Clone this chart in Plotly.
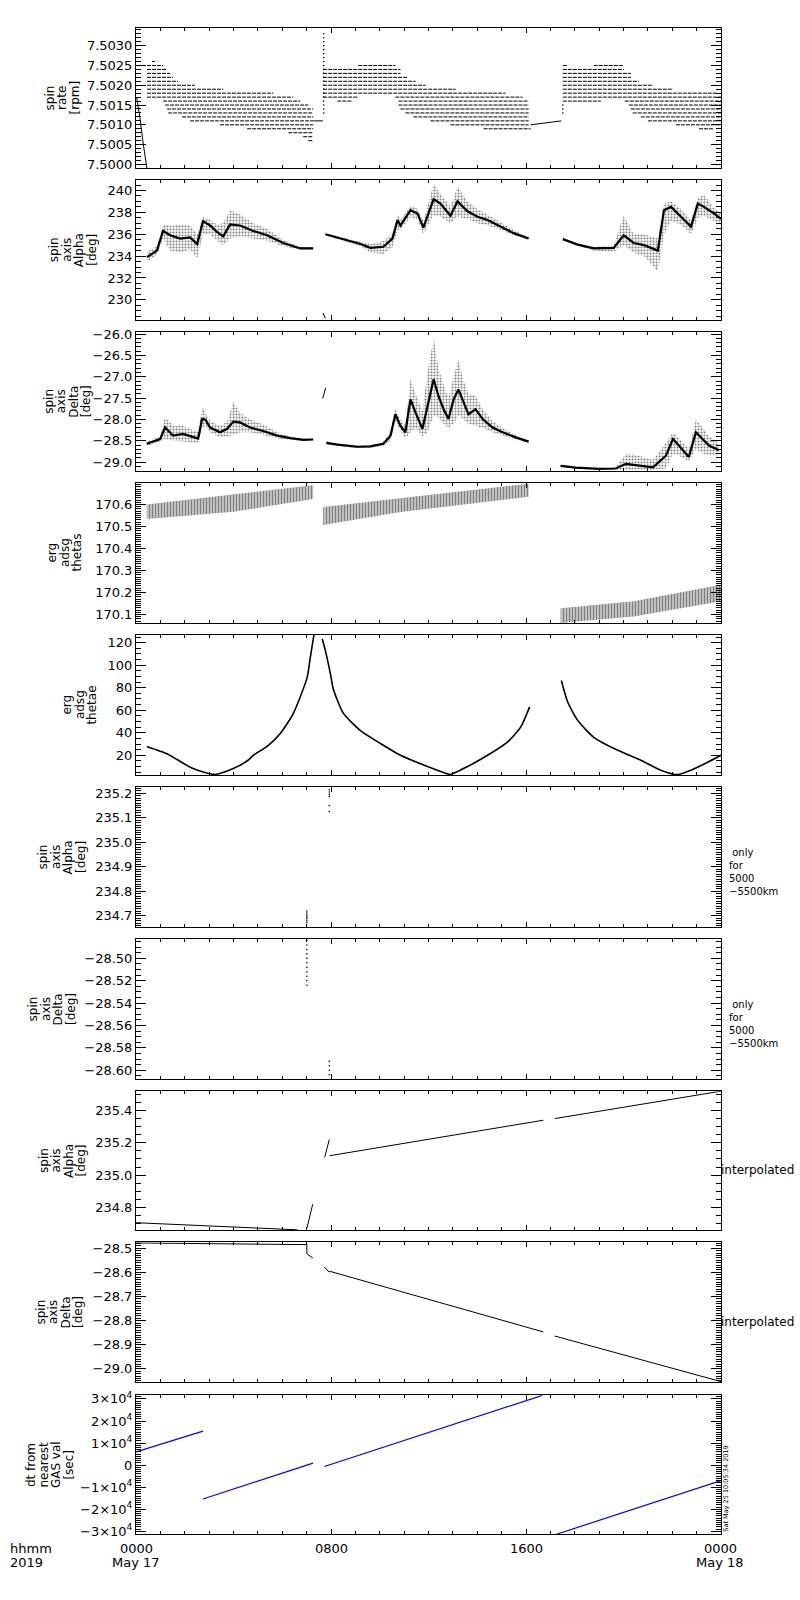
import plotly.graph_objects as go

# time axis: hours after 0000 UT, 2019 May 17

# ---- panel 1: spin rate [rpm], quantised rows -> level, start hour, end hour
rate_levels = [7.5026, 7.5025, 7.5024, 7.5023, 7.5022, 7.5021, 7.5020, 7.5019, 7.5018, 7.5017,
               7.5016, 7.5015, 7.5014, 7.5013, 7.5012, 7.5011, 7.5010, 7.5009, 7.5008, 7.5007, 7.5006,
               7.5025, 7.5024, 7.5023, 7.5022, 7.5021, 7.5020, 7.5019, 7.5018, 7.5017, 7.5017,
               7.5016, 7.5016, 7.5015, 7.5014, 7.5013, 7.5012, 7.5011, 7.5010, 7.5009,
               7.5025, 7.5025, 7.5024, 7.5023, 7.5022, 7.5021, 7.5020, 7.5019, 7.5018, 7.5017,
               7.5016, 7.5016, 7.5015, 7.5014, 7.5013, 7.5012, 7.5011, 7.5010, 7.5009]
rate_t0 = [0.66, 0.45, 0.45, 0.45, 0.45, 0.45, 0.45, 0.45, 0.45, 0.45,
           1.11, 1.19, 1.27, 1.32, 1.89, 2.22, 3.45, 4.56, 6.25, 6.86, 7.07,
           9.12, 7.68, 7.68, 7.68, 7.68, 7.68, 7.68, 7.68, 7.68, 10.64,
           8.26, 10.77, 10.77, 10.85, 11.05, 11.38, 12.08, 12.90, 14.26,
           17.51, 18.78, 17.51, 17.51, 17.51, 17.51, 17.51, 17.51, 17.51, 17.51,
           17.51, 20.05, 20.22, 20.30, 20.38, 20.71, 21.00, 22.15, 23.10]
rate_t1 = [0.78, 1.11, 1.27, 1.40, 1.52, 1.73, 2.42, 3.58, 5.63, 6.45,
           6.74, 7.07, 7.27, 7.27, 7.27, 7.27, 7.27, 7.27, 7.27, 7.27, 7.27,
           10.64, 10.85, 10.85, 11.14, 11.47, 11.88, 13.11, 15.16, 9.12, 15.86,
           8.88, 16.11, 16.11, 16.11, 16.11, 16.11, 16.11, 16.11, 16.19,
           17.71, 20.01, 20.01, 20.30, 20.30, 20.63, 21.21, 22.03, 23.88, 24.0,
           19.07, 24.0, 24.0, 24.0, 24.0, 24.0, 24.0, 24.0, 23.67]
rate_col_t = [7.70, 7.70, 7.70, 7.70, 7.70, 7.70, 7.70, 7.70, 7.70, 7.70, 7.70,
              7.70, 7.70, 7.70, 7.70, 7.70, 7.70, 7.70, 7.70, 7.70, 7.70,
              17.51, 17.51, 17.51]
rate_col_v = [7.5013, 7.5014, 7.5015, 7.5016, 7.5017, 7.5018, 7.5019, 7.5020, 7.5021, 7.5022, 7.5023,
              7.5024, 7.5025, 7.5026, 7.5027, 7.5028, 7.5029, 7.5030, 7.5031, 7.5032, 7.5033,
              7.5013, 7.5014, 7.5015]
rate_line_t = [0.03, 0.16, 0.30, 0.46, None, 7.27, 7.67, None, 16.19, 17.45]
rate_line_v = [7.50168, 7.50118, 7.50051, 7.49985, None, 7.5011, 7.5011, None, 7.5010, 7.5011]

# ---- panel 2: spin axis Alpha [deg], core and spread per orbit segment
alpha_t = [[0.45, 0.86, 1.11, 1.40, 1.81, 2.22, 2.51, 2.75, 3.04, 3.33, 3.58, 3.86, 4.27, 4.81, 5.38, 6.04, 6.74, 7.27],
           [7.77, 8.59, 9.21, 9.62, 10.15, 10.52, 10.73, 10.85, 11.26, 11.55, 11.79, 12.21, 12.49, 12.90, 13.19,
            13.60, 14.01, 14.42, 14.96, 15.49, 16.11],
           [17.51, 18.12, 18.78, 19.60, 20.01, 20.42, 20.84, 21.41, 21.66, 21.95, 22.36, 22.77, 23.05, 23.30, 23.71, 24.0]]
alpha_mid = [[233.9, 234.5, 236.3, 235.9, 235.6, 235.7, 235.1, 237.2, 236.8, 236.2, 235.8, 236.9, 236.8, 236.3, 235.9, 235.2, 234.7, 234.7],
             [236.0, 235.5, 235.1, 234.75, 234.85, 235.6, 237.3, 236.8, 238.2, 237.9, 236.6, 239.2, 238.8, 237.7, 239.0,
              238.1, 237.6, 237.3, 236.7, 236.1, 235.6],
             [235.55, 235.05, 234.7, 234.75, 235.9, 235.2, 235.0, 234.5, 238.2, 238.5, 237.6, 236.7, 238.8, 238.5, 237.9, 237.4]]
alpha_lo = [[233.5, 234.1, 235.6, 234.5, 234.3, 234.6, 233.8, 236.0, 236.0, 235.4, 235.0, 235.6, 235.8, 235.6, 235.4, 234.9, 234.55, 234.6],
            [235.9, 235.35, 234.9, 234.3, 234.2, 234.8, 236.4, 236.4, 237.6, 237.3, 236.0, 237.8, 237.6, 237.0, 237.6,
             237.4, 237.0, 236.8, 236.4, 235.9, 235.5],
            [235.45, 234.95, 234.5, 234.4, 235.0, 234.3, 234.0, 232.6, 236.0, 237.2, 236.9, 236.0, 237.5, 237.7, 237.2, 236.9]]
alpha_hi = [[234.4, 234.9, 236.9, 236.8, 236.9, 236.8, 236.0, 237.6, 237.3, 236.9, 237.0, 238.2, 237.8, 237.0, 236.5, 235.5, 234.85, 234.8],
            [236.1, 235.65, 235.3, 235.1, 235.4, 236.0, 237.8, 237.3, 238.6, 238.3, 237.2, 240.6, 239.7, 238.5, 240.4,
             239.0, 238.3, 237.8, 237.1, 236.4, 235.7],
            [235.65, 235.15, 234.85, 235.0, 237.7, 236.0, 236.0, 235.6, 238.8, 239.0, 238.3, 237.3, 239.3, 239.6, 238.4, 237.9]]
alpha_stub_t = [7.67, 7.77]
alpha_stub_v = [228.8, 228.3]

# ---- panel 3: spin axis Delta [deg]
delta_t = [[0.44, 0.99, 1.19, 1.52, 1.93, 2.34, 2.55, 2.71, 2.84, 3.04, 3.45, 3.74, 3.99, 4.27, 4.68, 5.22, 5.79, 6.33, 6.86, 7.27],
           [7.81, 8.26, 9.08, 9.62, 10.15, 10.44, 10.64, 10.85, 11.05, 11.26, 11.47, 11.75, 11.96, 12.21, 12.41,
            12.62, 12.82, 13.03, 13.23, 13.44, 13.64, 13.93, 14.22, 14.63, 15.04, 15.58, 16.11],
           [17.42, 18.04, 18.99, 19.68, 20.10, 20.63, 21.21, 21.74, 22.03, 22.27, 22.68, 22.97, 23.26, 23.51, 23.92]]
delta_mid = [[-28.57, -28.46, -28.19, -28.38, -28.34, -28.42, -28.45, -27.99, -28.00, -28.19, -28.30, -28.22, -28.05, -28.07,
              -28.19, -28.27, -28.38, -28.44, -28.48, -28.47],
             [-28.55, -28.59, -28.64, -28.63, -28.57, -28.38, -27.88, -28.15, -28.30, -27.53, -27.84, -28.22, -27.69, -27.06,
              -27.45, -27.76, -27.99, -27.53, -27.30, -27.61, -27.88, -27.76, -27.99, -28.19, -28.30, -28.42, -28.52],
             [-29.09, -29.13, -29.16, -29.15, -29.04, -29.08, -29.12, -28.85, -28.46, -28.61, -28.88, -28.30, -28.46, -28.61, -28.72]]
delta_lo = [[-28.62, -28.52, -28.45, -28.50, -28.52, -28.55, -28.55, -28.20, -28.15, -28.30, -28.42, -28.40, -28.35, -28.30,
             -28.30, -28.36, -28.44, -28.48, -28.50, -28.49],
            [-28.58, -28.62, -28.67, -28.66, -28.62, -28.50, -28.05, -28.25, -28.45, -28.30, -28.20, -28.40, -28.30, -27.90,
             -27.95, -28.10, -28.20, -28.10, -27.90, -28.00, -28.10, -28.15, -28.20, -28.30, -28.38, -28.47, -28.55],
            [-29.11, -29.15, -29.18, -29.18, -29.17, -29.18, -29.18, -29.15, -28.80, -28.85, -28.98, -28.70, -28.80, -28.85, -28.85]]
delta_hi = [[-28.52, -28.40, -27.95, -28.15, -28.15, -28.25, -28.30, -27.70, -27.85, -28.05, -28.15, -28.05, -27.60, -27.85,
             -28.00, -28.12, -28.30, -28.40, -28.45, -28.45],
            [-28.52, -28.56, -28.61, -28.60, -28.52, -28.30, -27.75, -28.00, -28.15, -27.05, -27.40, -27.80, -26.90, -26.10,
             -26.80, -27.20, -27.50, -27.00, -26.60, -27.10, -27.40, -27.45, -27.75, -28.05, -28.20, -28.37, -28.50],
            [-29.07, -29.11, -29.14, -29.12, -28.80, -28.85, -28.95, -28.55, -28.30, -28.45, -28.70, -28.00, -28.20, -28.40, -28.55]]
delta_stub_t = [7.66, 7.78]
delta_stub_v = [-27.51, -27.26]

# ---- panel 4: erg adsg thetas, band edges
thetas_t = [[0.44, 4.0, 7.27], [7.68, 10.85, 16.11], [17.42, 20.42, 24.0]]
thetas_lo = [[170.534, 170.567, 170.625], [170.507, 170.566, 170.635], [170.062, 170.091, 170.160]]
thetas_hi = [[170.600, 170.645, 170.688], [170.589, 170.630, 170.695], [170.129, 170.160, 170.235]]

# ---- panel 5: erg adsg thetae
thetae_t = [[0.44, 1.27, 1.68, 2.34, 3.25, 3.99, 4.60, 4.81, 5.38, 5.92, 6.45, 7.02, 7.15, 7.30],
            [7.64, 7.77, 7.97, 8.10, 8.51, 9.21, 10.03, 10.85, 11.96, 12.78, 12.90, 13.60, 14.42, 15.25, 15.78, 16.15],
            [17.45, 17.71, 18.12, 18.78, 19.77, 20.71, 21.53, 22.23, 22.77, 23.47, 24.0]]
thetae_v = [[27.9, 21.4, 16.2, 8.2, 3.0, 8.2, 15.6, 20.0, 28.0, 39.4, 57.0, 89.0, 106.8, 127.0],
            [123.3, 113.0, 93.0, 78.5, 57.2, 42.0, 30.5, 20.0, 10.0, 3.5, 3.0, 10.0, 20.0, 32.0, 45.0, 63.0],
            [86.4, 67.3, 51.0, 36.0, 24.4, 15.6, 6.8, 2.8, 6.8, 14.0, 20.0]]

# ---- panels 6 / 7: only for 5000-5500 km
alpha5k_t = [7.01, 7.01, 7.01, 7.01, 7.01, 7.01, 7.01, 7.93, 7.93, 7.93, 7.93, 7.93, 7.93]
alpha5k_v = [234.672, 234.680, 234.688, 234.695, 234.703, 234.712, 234.720,
             235.214, 235.205, 235.196, 235.187, 235.150, 235.125]
delta5k_t = [7.01, 7.01, 7.01, 7.01, 7.01, 7.01, 7.01, 7.01, 7.01, 7.01, 7.01, 7.93, 7.93, 7.93, 7.93]
delta5k_v = [-28.484, -28.488, -28.492, -28.496, -28.500, -28.504, -28.508, -28.512, -28.516, -28.520, -28.524,
             -28.592, -28.596, -28.600, -28.604]

# ---- panels 8 / 9: interpolated
alpha_i_t = [0.0, 6.62, None, 7.01, 7.25, None, 7.74, 7.93, None, 7.94, 16.71, None, 17.18, 24.0]
alpha_i_v = [234.705, 234.661, None, 234.67, 234.82, None, 235.11, 235.22, None, 235.12, 235.34, None, 235.35, 235.52]
delta_i_t = [0.0, 7.01, 7.01, 7.25, None, 7.73, 7.93, None, 7.93, 16.71, None, 17.18, 24.0]
delta_i_v = [-28.478, -28.485, -28.523, -28.54, None, -28.578, -28.60, None, -28.595, -28.847, None, -28.864, -29.053]

# ---- panel 10: dt from nearest GAS val [sec]
dt_t = [0.0, 2.75, None, 2.75, 7.26, None, 7.73, 16.67, None, 17.22, 24.0]
dt_v = [6000, 15450, None, -15300, 900, None, -600, 31600, None, -31400, -7000]

titles = [["spin", "rate", "[rpm]"],
          ["spin", "axis", "Alpha", "[deg]"],
          ["spin", "axis", "Delta", "[deg]"],
          ["erg", "adsg", "thetas"],
          ["erg", "adsg", "thetae"],
          ["spin", "axis", "Alpha", "[deg]"],
          ["spin", "axis", "Delta", "[deg]"],
          ["spin", "axis", "Alpha", "[deg]"],
          ["spin", "axis", "Delta", "[deg]"],
          ["dt from", "nearest", "GAS val", "[sec]"]]

# layout in pixels
W, H = 800, 1600
X0, X1 = 136, 721
PANELS = [(23, 164), (176, 317), (329, 469), (481, 622), (634, 775),
          (787, 928), (940, 1081), (1093, 1233), (1245, 1386), (1399, 1539)]
TITLE_X = [62, 73, 67, 65, 80, 62, 52, 62, 60, 50]
TICKFONT = dict(family="DejaVu Sans", size=13, color="black")
TXTFONT = dict(family="DejaVu Sans", size=12, color="black")

yspec = [
    dict(range=[7.49991, 7.50345], tick0=7.5, dtick=0.0005, tickformat=".4f", minor=0.0001),
    dict(range=[228.15, 240.97], tick0=230, dtick=2, minor=0.5),
    dict(range=[-29.21, -25.95], tick0=-29, dtick=0.5, tickformat=".1f", minor=0.1),
    dict(range=[170.061, 170.698], tick0=170.1, dtick=0.1, tickformat=".1f", minor=0.01),
    dict(range=[2.35, 126.8], tick0=0, dtick=20, minor=5),
    dict(range=[234.654, 235.225], tick0=234.7, dtick=0.1, tickformat=".1f", minor=0.01),
    dict(range=[-28.608, -28.4828], tick0=-28.6, dtick=0.02, tickformat=".2f", minor=0.005),
    dict(range=[234.658, 235.52], tick0=234.8, dtick=0.2, tickformat=".1f", minor=0.05),
    dict(range=[-29.056, -28.475], tick0=-29, dtick=0.1, tickformat=".1f", minor=0.01),
    dict(range=[-31350, 31667], tick0=0, dtick=10000, minor=1000),
]

fig = go.Figure()


def ax(i):
    return ("x" if i == 1 else f"x{i}"), ("y" if i == 1 else f"y{i}")


def add(trace, i):
    xa, ya = ax(i)
    trace.update(xaxis=xa, yaxis=ya, showlegend=False, hoverinfo="skip")
    fig.add_trace(trace)


def band(i, t, lo, hi, shape, size, solidity):
    add(go.Scatter(x=t, y=lo, mode="lines", line=dict(width=0)), i)
    add(go.Scatter(x=t, y=hi, mode="lines", line=dict(width=0), fill="tonexty",
                   fillcolor="rgba(0,0,0,0)",
                   fillpattern=dict(shape=shape, fgcolor="black", bgcolor="rgba(0,0,0,0)",
                                    size=size, solidity=solidity)), i)


# panel 1
rx, ry = [], []
for lv, a, b in zip(rate_levels, rate_t0, rate_t1):
    rx += [a, b, None]
    ry += [lv, lv, None]
add(go.Scatter(x=rx, y=ry, mode="lines", line=dict(color="black", width=1, dash="4px,1px")), 1)
add(go.Scatter(x=rate_col_t, y=rate_col_v, mode="markers", marker=dict(color="black", size=1.6)), 1)
add(go.Scatter(x=rate_line_t, y=rate_line_v, mode="lines", line=dict(color="black", width=1)), 1)

# panel 2 and 3
for t, m, lo, hi in zip(alpha_t, alpha_mid, alpha_lo, alpha_hi):
    band(2, t, lo, hi, ".", 3, 0.4)
    add(go.Scatter(x=t, y=m, mode="lines", line=dict(color="black", width=2.2)), 2)
add(go.Scatter(x=alpha_stub_t, y=alpha_stub_v, mode="lines", line=dict(color="black", width=1)), 2)
for t, m, lo, hi in zip(delta_t, delta_mid, delta_lo, delta_hi):
    band(3, t, lo, hi, ".", 3, 0.4)
    add(go.Scatter(x=t, y=m, mode="lines", line=dict(color="black", width=2.2)), 3)
add(go.Scatter(x=delta_stub_t, y=delta_stub_v, mode="lines", line=dict(color="black", width=1)), 3)

# panel 4
for t, lo, hi in zip(thetas_t, thetas_lo, thetas_hi):
    band(4, t, lo, hi, "|", 3, 0.67)

# panel 5
for t, v in zip(thetae_t, thetae_v):
    add(go.Scatter(x=t, y=v, mode="lines", line=dict(color="black", width=1.6, shape="spline",
                                                     smoothing=0.6)), 5)

# panels 6-9
add(go.Scatter(x=alpha5k_t, y=alpha5k_v, mode="markers", marker=dict(color="black", size=1.6)), 6)
add(go.Scatter(x=delta5k_t, y=delta5k_v, mode="markers", marker=dict(color="black", size=1.6)), 7)
add(go.Scatter(x=alpha_i_t, y=alpha_i_v, mode="lines", line=dict(color="black", width=1)), 8)
add(go.Scatter(x=delta_i_t, y=delta_i_v, mode="lines", line=dict(color="black", width=1)), 9)

# panel 10
add(go.Scatter(x=dt_t, y=dt_v, mode="lines", line=dict(color="#0000ff", width=1.2)), 10)

layout = dict(width=W, height=H, margin=dict(l=0, r=0, t=0, b=0),
              paper_bgcolor="white", plot_bgcolor="white", showlegend=False)
annotations = []

for i, (top, bot) in enumerate(PANELS, start=1):
    xa, ya = ax(i)
    xname = "xaxis" if i == 1 else f"xaxis{i}"
    yname = "yaxis" if i == 1 else f"yaxis{i}"
    layout[xname] = dict(domain=[X0 / W, X1 / W], anchor=ya, range=[0, 24],
                         tickmode="linear", tick0=0, dtick=8, ticks="inside", ticklen=5,
                         tickcolor="black", showticklabels=False, showline=True, linecolor="black",
                         linewidth=1, mirror="allticks", showgrid=False, zeroline=False,
                         minor=dict(tickmode="linear", tick0=0, dtick=1, ticks="inside",
                                    ticklen=3, tickcolor="black"))
    s = yspec[i - 1]
    yax = dict(domain=[1 - bot / H, 1 - top / H], anchor=xa, range=s["range"],
               ticks="inside", ticklen=10, tickcolor="black", tickfont=TICKFONT,
               showline=True, linecolor="black", linewidth=1, mirror="allticks",
               showgrid=False, zeroline=False,
               minor=dict(tickmode="linear", tick0=s["tick0"], dtick=s["minor"], ticks="inside",
                          ticklen=5, tickcolor="black"))
    if i == 10:
        yax.update(tickmode="array", tickvals=[-30000, -20000, -10000, 0, 10000, 20000, 30000],
                   ticktext=["\u22123\u00d710<sup>4</sup>", "\u22122\u00d710<sup>4</sup>",
                             "\u22121\u00d710<sup>4</sup>", "0", "1\u00d710<sup>4</sup>",
                             "2\u00d710<sup>4</sup>", "3\u00d710<sup>4</sup>"])
    else:
        yax.update(tickmode="linear", tick0=s["tick0"], dtick=s["dtick"])
        if "tickformat" in s:
            yax["tickformat"] = s["tickformat"]
    layout[yname] = yax

    # stacked y title, one line at a time
    lines = titles[i - 1]
    pitch = 12.5
    cy = 1 - (top + bot) / 2 / H
    for k, txt in enumerate(lines):
        px = TITLE_X[i - 1] + (k - (len(lines) - 1) / 2) * pitch
        annotations.append(dict(x=px / W, y=cy, xref="paper", yref="paper", text=txt,
                                textangle=-90, showarrow=False, xanchor="center",
                                yanchor="middle", font=TXTFONT))


def label(x, y, txt, anchor="center", font=TICKFONT, angle=0):
    annotations.append(dict(x=x / W, y=1 - y / H, xref="paper", yref="paper", text=txt,
                            showarrow=False, xanchor=anchor, yanchor="middle", align="left",
                            font=font, textangle=angle))


label(727, 872, " only<br>for<br>5000<br>\u22125500km", anchor="left",
      font=dict(family="DejaVu Sans", size=10, color="black"))
label(727, 1025, " only<br>for<br>5000<br>\u22125500km", anchor="left",
      font=dict(family="DejaVu Sans", size=10, color="black"))
label(719, 1172, "interpolated", anchor="left", font=TXTFONT)
label(719, 1325, "interpolated", anchor="left", font=TXTFONT)

label(8, 1553, "hhmm", anchor="left")
label(8, 1567, "2019", anchor="left")
label(136, 1553, "0000")
label(136, 1567, "May 17")
label(331, 1553, "0800")
label(526, 1553, "1600")
label(720, 1553, "0000")
label(720, 1567, "May 18")
label(726, 1493, "Sat May 25 10:05:34 2019", font=dict(family="DejaVu Sans", size=6.5, color="black"),
      angle=-90)

layout["annotations"] = annotations
fig.update_layout(layout)
fig.write_html("out.html", config={"displayModeBar": False},
               post_script="document.body.style.margin='0';document.body.style.overflow='hidden';")
